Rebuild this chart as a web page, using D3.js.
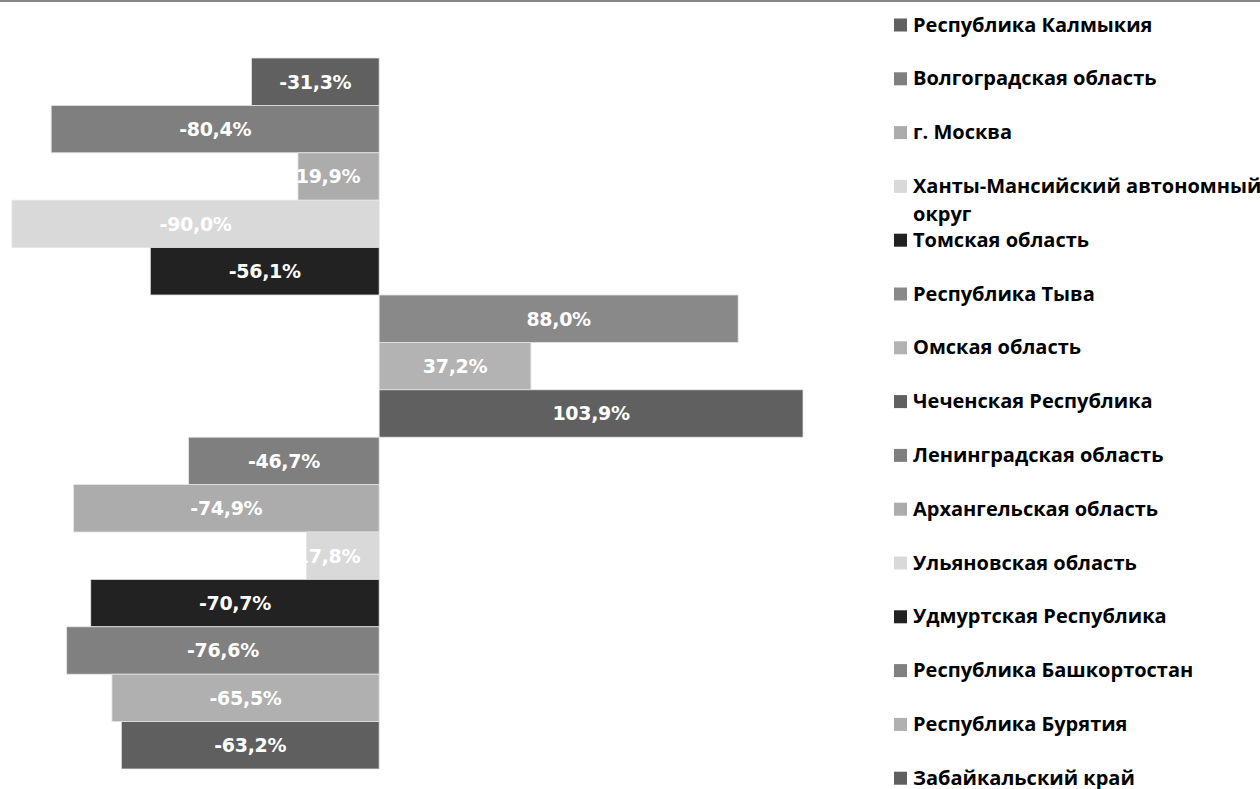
<!DOCTYPE html>
<html><head><meta charset="utf-8">
<script src="https://cdn.jsdelivr.net/npm/d3@7"></script>
<style>
html,body{margin:0;padding:0;background:#fff;}
svg{display:block;}
</style></head>
<body>
<svg id="chart" width="1260" height="789"></svg>
<script>
const regions = ["Республика Калмыкия","Волгоградская область","г. Москва","Ханты-Мансийский автономный округ","Томская область","Республика Тыва","Омская область","Чеченская Республика","Ленинградская область","Архангельская область","Ульяновская область","Удмуртская Республика","Республика Башкортостан","Республика Бурятия","Забайкальский край"];
const values = [-31.3,-80.4,-19.9,-90.0,-56.1,88.0,37.2,103.9,-46.7,-74.9,-17.8,-70.7,-76.6,-65.5,-63.2];
const colors = ["#606060","#7f7f7f","#acacac","#d9d9d9","#222222","#898989","#b3b3b3","#606060","#7f7f7f","#acacac","#d9d9d9","#222222","#808080","#b0b0b0","#5f5f5f"];

const svg = d3.select("#chart");
const fmt = v => d3.format(".1f")(v).replace(".", ",").replace("−","-") + "%";

svg.append("rect").attr("x",0).attr("y",0).attr("width",1260).attr("height",2).attr("fill","#878787");

const x = d3.scaleLinear().domain([-90, 103.9]).range([12, 803]);
const y = d3.scaleBand().domain(regions).range([58, 769]).padding(0);

const g = svg.append("g");
g.selectAll("rect.bar").data(regions).join("rect")
  .attr("class","bar")
  .attr("x",(d,i)=>Math.min(x(0),x(values[i])))
  .attr("width",(d,i)=>Math.abs(x(values[i])-x(0)))
  .attr("y",d=>y(d))
  .attr("height",y.bandwidth())
  .attr("fill",(d,i)=>colors[i])
  .attr("stroke","#e4e4e4").attr("stroke-width",0.8);

g.selectAll("text.lbl").data(regions).join("text")
  .attr("class","lbl")
  .attr("x",(d,i)=>{
    const w = Math.abs(x(values[i])-x(0));
    return w < 100 ? x(0)-19 : (x(values[i])+x(0))/2;
  })
  .attr("text-anchor",(d,i)=>Math.abs(x(values[i])-x(0)) < 100 ? "end" : "middle")
  .attr("y",d=>y(d)+y.bandwidth()/2)
  .attr("dy","0.36em")
  .attr("fill","#fff")
  .attr("font-family","'DejaVu Sans', sans-serif")
  .attr("font-weight","bold")
  .attr("font-size","19px")
  .attr("letter-spacing","-0.3px")
  .text((d,i)=>fmt(values[i]));

// legend
const lg = svg.append("g");
const step = 53.8, base0 = 31.5;
regions.forEach((r,i)=>{
  const by = base0 + i*step;
  lg.append("rect").attr("x",894).attr("y",by-13).attr("width",13).attr("height",13).attr("fill",colors[i]);
  const t = lg.append("text").attr("x",913).attr("y",by)
    .attr("font-family","'Open Sans', sans-serif").attr("font-weight","bold")
    .attr("font-size","20px").attr("fill","#000");
  const words = r.split(" ");
  let line = [], tspan = t.append("tspan").attr("x",913).attr("y",by), ln = 0;
  words.forEach(w=>{
    line.push(w);
    tspan.text(line.join(" "));
    if (tspan.node().getComputedTextLength() > 362 && line.length>1){
      line.pop(); tspan.text(line.join(" "));
      line=[w]; ln++;
      tspan = t.append("tspan").attr("x",913).attr("y",by+ln*28).text(w);
    }
  });
});
</script>
</body></html>
